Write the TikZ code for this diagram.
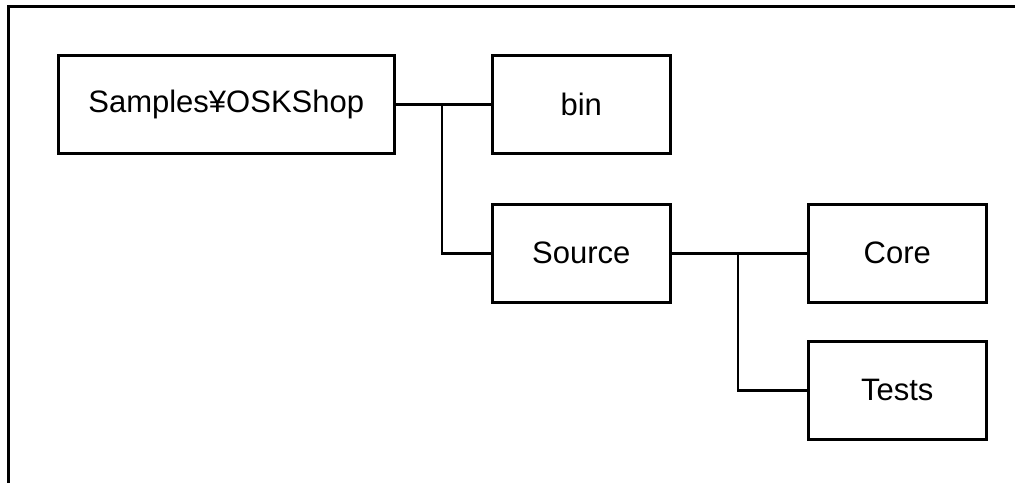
\documentclass[tikz,border=0pt]{standalone}
\usepackage{fontspec}
\setmainfont{Liberation Sans}
\begin{document}
\begin{tikzpicture}[x=1pt,y=-1pt,
  folder/.style={draw, line width=2.5pt, inner sep=0pt, anchor=north west,
    font=\fontsize{31}{37}\selectfont},
  link/.style={line width=2.5pt}]
\useasboundingbox (0,0) rectangle (1015,483);
% open frame: top and left edges only
\draw[line width=3pt] (1015,6) -- (8.5,6) -- (8.5,483);
% folder boxes
\node[folder, minimum width=336pt, minimum height=98pt] (root) at (57,54) {Samples¥OSKShop};
\node[folder, minimum width=178pt, minimum height=98pt] (bin) at (491,54) {bin};
\node[folder, minimum width=178pt, minimum height=98pt] (src) at (491,203) {Source};
\node[folder, minimum width=178pt, minimum height=98pt] (core) at (807,203) {Core};
\node[folder, minimum width=178pt, minimum height=98pt] (tests) at (807,340) {Tests};
% tree connectors
\coordinate (j1) at (root.east -| 442,0);
\coordinate (j2) at (src.east -| 738,0);
\draw[link] (root.east) -- (bin.west);
\draw[link] (j1) |- (src.west);
\draw[link] (src.east) -- (core.west);
\draw[link] (j2) |- (tests.west);
\end{tikzpicture}
\end{document}
